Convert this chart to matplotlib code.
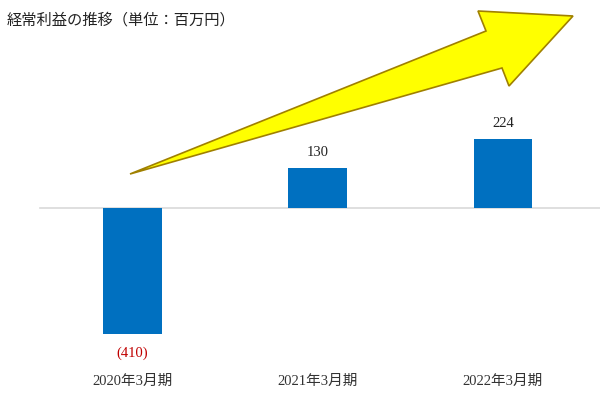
import matplotlib.pyplot as plt
from matplotlib.patches import Polygon

categories = ['2020年3月期', '2021年3月期', '2022年3月期']
values = [-410, 130, 224]
value_labels = ['(410)', '130', '224']
title = '経常利益の推移（単位：百万円）'

serif = ['Liberation Serif', 'Noto Sans CJK JP']
sans = ['Noto Sans CJK JP', 'DejaVu Sans']

fig = plt.figure(figsize=(6, 3.96), dpi=100)
ax = fig.add_axes([0, 0, 1, 1])
ax.set_xlim(-0.712, 2.523)
ax.set_ylim(-612, 677)
ax.axis('off')

# zero line
ax.plot([-0.496, 2.523], [0, 0], color='#D9D9D9', lw=1.2, zorder=1)

x = range(len(categories))
ax.bar(x, values, width=0.318, color='#0070C0', zorder=2)

for i, v in enumerate(values):
    if v < 0:
        ax.text(i, v - 40, value_labels[i], ha='center', va='top', fontsize=10.5,
                color='#C00000', family=serif)
    else:
        ax.text(i, v + 30, value_labels[i], ha='center', va='bottom', fontsize=10.5,
                color='#222222', family=serif)
    ax.text(i, -565, categories[i], ha='center', va='center', fontsize=10.5,
            color='#333333', family=serif)

fig.text(7 / 600, 1 - 20 / 396, title, ha='left', va='center', fontsize=11,
         color='#222222', family=sans)

# big yellow arrow (pixel coords -> figure fraction)
pts = [(130, 174), (486, 31), (478, 11), (573, 16), (509, 86), (502, 68)]
pts = [(px / 600, 1 - py / 396) for px, py in pts]
arrow = Polygon(pts, closed=True, facecolor='#FFFF00', edgecolor='#A08000',
                lw=1.2, transform=fig.transFigure, zorder=3)
fig.patches.append(arrow)

fig.savefig('out.png', dpi=100, facecolor='white')
